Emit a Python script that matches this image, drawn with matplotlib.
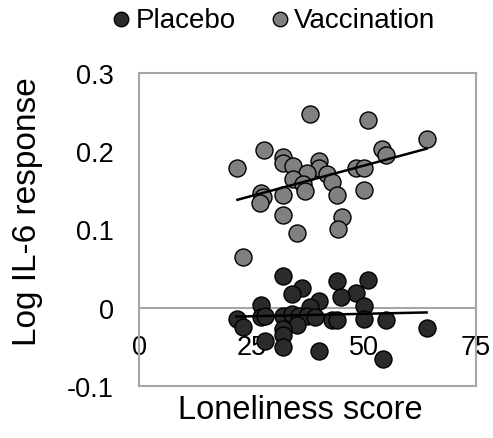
import numpy as np
import matplotlib.pyplot as plt

plt.rc('font', family=['Liberation Sans', 'DejaVu Sans'])

# DATA
placebo_x = [32.1, 36.2, 34.1, 44.1, 50.9, 48.2, 45.0, 40.1, 50.1, 27.1, 38.1,
             21.7, 23.2, 27.1, 28.0, 32.1, 34.1, 35.5, 37.3, 35.1, 32.1, 32.1,
             28.0, 32.1, 40.1, 54.2, 42.9, 44.1, 50.1, 55.0, 64.0, 39.2]
placebo_y = [0.041, 0.025, 0.018, 0.034, 0.035, 0.019, 0.014, 0.008, 0.002, 0.003, 0.001,
             -0.014, -0.025, -0.012, -0.010, -0.010, -0.008, -0.010, -0.010, -0.022, -0.027, -0.035,
             -0.042, -0.050, -0.055, -0.065, -0.016, -0.016, -0.014, -0.016, -0.026, -0.012]

vacc_x = [38.1, 50.9, 64.0, 27.9, 54.0, 55.0, 21.9, 32.1, 32.1, 34.3, 40.1,
          40.1, 48.3, 50.1, 37.3, 34.3, 41.8, 42.9, 36.6, 36.9, 27.2, 27.7,
          32.1, 44.1, 50.1, 26.9, 32.1, 45.1, 44.2, 35.1, 23.1]
vacc_y = [0.247, 0.240, 0.215, 0.201, 0.203, 0.195, 0.179, 0.193, 0.185, 0.181, 0.187,
          0.178, 0.179, 0.179, 0.172, 0.165, 0.171, 0.161, 0.158, 0.149, 0.146, 0.142,
          0.144, 0.144, 0.150, 0.134, 0.118, 0.116, 0.101, 0.096, 0.065]

x_ticks = [0, 25, 50, 75]
y_ticks = [-0.1, 0, 0.1, 0.2, 0.3]
y_tick_labels = ['-0.1', '0', '0.1', '0.2', '0.3']

PLACEBO_COL = '#2a2a2a'
VACC_COL = '#808080'
AXIS_COL = '#a6a6a6'

fig = plt.figure(figsize=(4.93, 4.39), dpi=100)
ax = fig.add_axes([0.282, 0.1185, 0.6835, 0.713])

ax.scatter(placebo_x, placebo_y, s=150, c=PLACEBO_COL, edgecolors='black',
           linewidths=1.0, zorder=3, label='Placebo')
ax.scatter(vacc_x, vacc_y, s=150, c=VACC_COL, edgecolors='black',
           linewidths=1.0, zorder=3, label='Vaccination')

# linear trend lines
for xs, ys in ((placebo_x, placebo_y), (vacc_x, vacc_y)):
    m, b = np.polyfit(xs, ys, 1)
    xl = np.array([min(xs), max(xs)])
    ax.plot(xl, m * xl + b, color='black', lw=1.8, zorder=4)

ax.axhline(0, color=AXIS_COL, lw=1.5, zorder=1)

ax.set_xlim(0, 75)
ax.set_ylim(-0.1, 0.3)
ax.set_yticks(y_ticks)
ax.set_yticklabels(y_tick_labels)
ax.tick_params(axis='y', length=0, pad=18, labelsize=19.5)
ax.set_xticks([])
for sp in ax.spines.values():
    sp.set_color(AXIS_COL)
    sp.set_linewidth(1.5)

# x labels sit at the y=0 crossing
sec = ax.secondary_xaxis(0.25)
sec.set_xticks(x_ticks)
sec.tick_params(length=0, pad=19, labelsize=19.5)
sec.spines['bottom'].set_visible(False)

fig.text(0.5 * (172 + 428) / 493, 0.03, 'Loneliness score', ha='center',
         va='bottom', fontsize=23.5)
fig.text(0.055, 1 - 212 / 439, 'Log IL-6 response', rotation=90,
         ha='center', va='center', fontsize=24)

fig.legend(loc='center', bbox_to_anchor=(0.556, 0.953), ncol=2, frameon=False,
           fontsize=20, handlelength=0.6, handletextpad=0.2, columnspacing=1.3,
           markerscale=0.85, borderaxespad=0, borderpad=0)

fig.savefig('out.png', dpi=100)
